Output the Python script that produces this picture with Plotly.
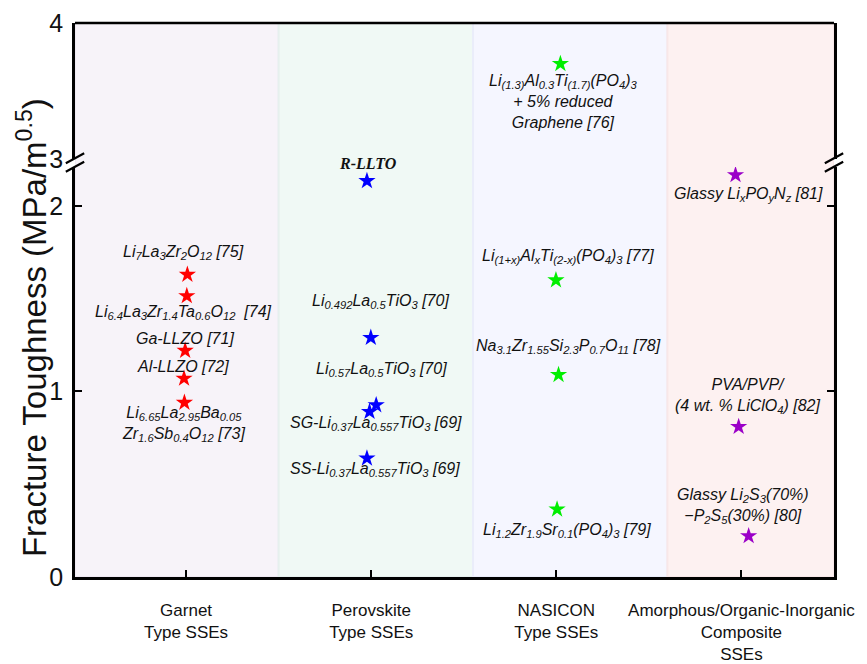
import plotly.graph_objects as go

# ---------------- data ----------------
categories = ["Garnet<br>Type SSEs", "Perovskite<br>Type SSEs", "NASICON<br>Type SSEs",
              "Amorphous/Organic-Inorganic<br>Composite<br>SSEs"]
cat_pos = [1, 2, 3, 4]

garnet_x = [1.007, 1.004, 0.995, 0.989, 0.991]
garnet_y = [1.63, 1.515, 1.22, 1.07, 0.94]

perov_x = [1.977, 1.998, 2.027, 1.991, 1.977]
perov_y = [2.135, 1.29, 0.927, 0.891, 0.64]

nasicon_x = [2.998, 3.012, 3.004]
nasicon_y = [1.60, 1.09, 0.365]
nasicon_top_x = [3.022]
nasicon_top_y = [3.70]

amorph_x = [3.968, 3.985, 4.039]
amorph_y = [2.167, 0.81, 0.221]

# labels: (text, x, y, yref)
labels = [
    ("Li<sub>7</sub>La<sub>3</sub>Zr<sub>2</sub>O<sub>12</sub> [75]", 0.984, 1.747, "y"),
    ("Li<sub>6.4</sub>La<sub>3</sub>Zr<sub>1.4</sub>Ta<sub>0.6</sub>O<sub>12</sub>  [74]", 0.984, 1.425, "y"),
    ("Ga-LLZO [71]", 0.995, 1.288, "y"),
    ("Al-LLZO [72]", 0.984, 1.137, "y"),
    ("Li<sub>6.65</sub>La<sub>2.95</sub>Ba<sub>0.05</sub><br>Zr<sub>1.6</sub>Sb<sub>0.4</sub>O<sub>12</sub> [73]", 0.984, 0.827, "y"),
    ("Li<sub>0.492</sub>La<sub>0.5</sub>TiO<sub>3</sub> [70]", 2.049, 1.484, "y"),
    ("Li<sub>0.57</sub>La<sub>0.5</sub>TiO<sub>3</sub> [70]", 2.058, 1.116, "y"),
    ("SG-Li<sub>0.37</sub>La<sub>0.557</sub>TiO<sub>3</sub> [69]", 2.027, 0.830, "y"),
    ("SS-Li<sub>0.37</sub>La<sub>0.557</sub>TiO<sub>3</sub> [69]", 2.022, 0.577, "y"),
    ("Li<sub>(1.3)</sub>Al<sub>0.3</sub>Ti<sub>(1.7)</sub>(PO<sub>4</sub>)<sub>3</sub><br>+ 5% reduced<br>Graphene [76]", 3.038, 3.421, "y2"),
    ("Li<sub>(1+x)</sub>Al<sub>x</sub>Ti<sub>(2-x)</sub>(PO<sub>4</sub>)<sub>3</sub> [77]", 3.062, 1.725, "y"),
    ("Na<sub>3.1</sub>Zr<sub>1.55</sub>Si<sub>2.3</sub>P<sub>0.7</sub>O<sub>11</sub> [78]", 3.065, 1.242, "y"),
    ("Li<sub>1.2</sub>Zr<sub>1.9</sub>Sr<sub>0.1</sub>(PO<sub>4</sub>)<sub>3</sub> [79]", 3.058, 0.253, "y"),
    ("Glassy Li<sub>x</sub>PO<sub>y</sub>N<sub>z</sub> [81]", 4.038, 2.063, "y"),
    ("PVA/PVP/<br>(4 wt. % LiClO<sub>4</sub>) [82]", 4.035, 0.975, "y"),
    ("Glassy Li<sub>2</sub>S<sub>3</sub>(70%)<br>\u2212P<sub>2</sub>S<sub>5</sub>(30%) [80]", 4.011, 0.385, "y"),
]

region_edges = [0.4, 1.5, 2.55, 3.6, 4.5]
region_colors = ["#F7F3F9", "#F0F9F5", "#F5F6FF", "#FDF1F1"]
region_borders = ["#EFE9F3", "#E6F0EE", "#EAEDFA", "#F8E7E8"]

star_size = 13

fig = go.Figure()

def stars(x, y, color, yaxis="y"):
    fig.add_trace(go.Scatter(x=x, y=y, mode="markers", yaxis=yaxis,
                             marker=dict(symbol="star", size=star_size, color=color,
                                         line=dict(width=0)),
                             showlegend=False, hoverinfo="x+y"))

stars(garnet_x, garnet_y, "#FF0000")
stars(perov_x, perov_y, "#0000FF")
stars(nasicon_x, nasicon_y, "#00EE00")
stars(nasicon_top_x, nasicon_top_y, "#00EE00", "y2")
stars(amorph_x, amorph_y, "#9B00C8")

shapes = []
for i in range(4):
    shapes.append(dict(type="rect", xref="x", yref="paper", x0=region_edges[i], x1=region_edges[i + 1],
                       y0=0, y1=1, fillcolor=region_colors[i], line=dict(width=2, color=region_borders[i]),
                       layer="below"))

# top frame line
shapes.append(dict(type="line", xref="paper", yref="paper", x0=0, x1=1, y0=1, y1=1,
                   line=dict(color="black", width=2.5)))
# axis break marks
for xc in (0.0, 1.0):
    for (ya, yb) in ((0.7468, 0.7648), (0.7316, 0.7496)):
        shapes.append(dict(type="line", xref="paper", yref="paper", x0=xc - 0.0121, x1=xc + 0.0121,
                           y0=ya, y1=yb, line=dict(color="black", width=2.2)))

label_font = dict(family="Liberation Sans, Arial", size=16, color="#111111")
annotations = []
for text, x, y, yref in labels:
    annotations.append(dict(text="<i>" + text + "</i>", x=x, y=y, xref="x", yref=yref,
                            showarrow=False, font=label_font, align="center",
                            xanchor="center", yanchor="middle"))
annotations.append(dict(text="<b><i>R-LLTO</i></b>", x=1.984, y=2.135, xref="x", yref="y", yshift=17,
                        showarrow=False, xanchor="center", yanchor="middle",
                        font=dict(family="Liberation Serif, Times New Roman", size=16, color="#111111")))
annotations.append(dict(text="Fracture Toughness (MPa/m<sup>0.5</sup>)", x=-0.0567, y=0.451,
                        xref="paper", yref="paper", textangle=-90, showarrow=False,
                        xanchor="center", yanchor="middle",
                        font=dict(family="Liberation Sans, Arial", size=33, color="#111111")))

axis_common = dict(showline=True, linecolor="black", linewidth=2.5, ticks="inside", ticklen=7,
                   tickwidth=2.2, tickcolor="black", showgrid=False, zeroline=False, mirror="ticks",
                   automargin=False, ticklabelstandoff=4,
                   tickfont=dict(family="Liberation Sans, Arial", size=25, color="#111111"))

fig.update_layout(
    width=867, height=664,
    margin=dict(l=75, r=33, t=23, b=87, autoexpand=False),
    paper_bgcolor="white", plot_bgcolor="white",
    shapes=shapes, annotations=annotations,
    xaxis=dict(range=[region_edges[0], region_edges[-1]], tickvals=cat_pos, ticktext=categories,
               showline=True, linecolor="black", linewidth=2.5, ticks="inside", ticklen=7, tickwidth=2.2,
               tickcolor="black", showgrid=False, zeroline=False, ticklabelstandoff=16, automargin=False,
               tickfont=dict(family="Liberation Sans Narrow, Arial Narrow, Liberation Sans, Arial", size=17,
                             color="#111111"), anchor="y"),
    yaxis=dict(domain=[0, 0.7401], range=[0, 2.2102], tickvals=[0, 1, 2], **axis_common),
    yaxis2=dict(domain=[0.7545, 1], range=[3, 4], tickvals=[3, 4], anchor="x", **axis_common),
)

fig.write_html("out.html", config={"displayModeBar": False},
               post_script="document.body.style.margin='0';document.body.style.overflow='hidden';")
